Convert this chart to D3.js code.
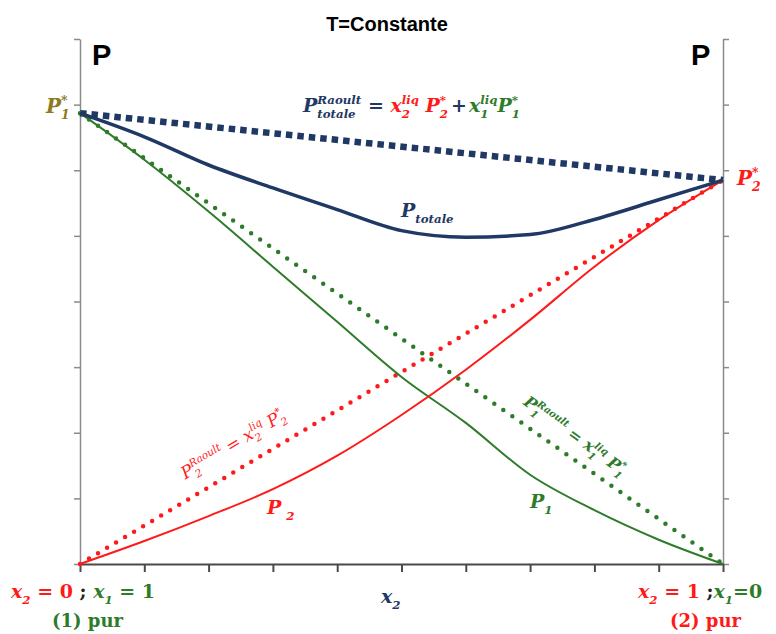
<!DOCTYPE html>
<html>
<head>
<meta charset="utf-8">
<script src="https://cdn.jsdelivr.net/npm/d3@7"></script>
<style>
	body { margin: 0; background: #fff; }
	text { white-space: pre; }
</style>
</head>
<body>
<div id="chart"></div>
<script>
// mole fraction of component 2 in the liquid, and the pressures (arbitrary units)
const x2 = [0, 0.1, 0.2, 0.3, 0.4, 0.5, 0.6, 0.7, 0.8, 0.9, 1];
const p1 = [6.87, 6.16, 5.37, 4.53, 3.69, 2.85, 2.15, 1.36, 0.82, 0.37, 0];
const p2 = [0, 0.35, 0.73, 1.14, 1.65, 2.27, 2.96, 3.72, 4.53, 5.24, 5.85];
const pTotale = [6.87, 6.51, 6.08, 5.73, 5.40, 5.08, 4.98, 5.02, 5.25, 5.55, 5.85];

// ideal (Raoult) lines: only the two pure-component ends
const xEnds = [0, 1];
const p1Raoult = [6.87, 0];
const p2Raoult = [0, 5.85];
const pTotRaoult = [6.87, 5.85];

const xTicks = [0, 0.1, 0.2, 0.3, 0.4, 0.5, 0.6, 0.7, 0.8, 0.9, 1];
const yTicks = [0, 1, 2, 3, 4, 5, 6, 7, 8];

const navy = "#1f3864", red = "#ff1a1a", green = "#2e7b2a", olive = "#8c7a22";
const serif = "'DejaVu Serif', 'Liberation Serif', serif";
const sans = "'Liberation Sans', Arial, sans-serif";

let margin = { top: 39, right: 53, bottom: 70, left: 80 },
	w = 776 - margin.left - margin.right,
	h = 634 - margin.top - margin.bottom;

let svg = d3.select("#chart")
	.append("svg")
	.attr("width", 776)
	.attr("height", 634);

let g = svg.append("g")
	.attr("transform", "translate(" + margin.left + "," + margin.top + ")");

let x = d3.scaleLinear().domain([0, 1]).range([0, w]);
let y = d3.scaleLinear().domain([0, 8]).range([h, 0]);

// axes
let yLeft = g.append("g")
	.call(d3.axisLeft(y).tickValues(yTicks).tickFormat("").tickSize(6).tickSizeOuter(0));
let yRight = g.append("g")
	.attr("transform", "translate(" + w + ",0)")
	.call(d3.axisRight(y).tickValues(yTicks).tickFormat("").tickSize(6).tickSizeOuter(0));
let xAxis = g.append("g")
	.attr("transform", "translate(0," + h + ")")
	.call(d3.axisBottom(x).tickValues(xTicks).tickFormat("").tickSize(8).tickSizeOuter(0));

[yLeft, yRight].forEach(a => {
	a.selectAll("path, line").attr("stroke", "#8a8a8a").attr("stroke-width", 1.5);
});
xAxis.selectAll("path, line").attr("stroke", "#4a4a4a").attr("stroke-width", 2);

// lines
let line = d3.line()
	.x(d => x(d[0]))
	.y(d => y(d[1]));
let curve = d3.line()
	.x(d => x(d[0]))
	.y(d => y(d[1]))
	.curve(d3.curveMonotoneX);

function pairs(xs, ys) { return xs.map((v, i) => [v, ys[i]]); }

// ideal lines (dotted)
g.append("path")
	.attr("d", line(pairs(xEnds, pTotRaoult)))
	.attr("fill", "none").attr("stroke", navy)
	.attr("stroke-width", 6.5).attr("stroke-dasharray", "6.5 5");
g.append("path")
	.attr("d", line(pairs(xEnds, p2Raoult)))
	.attr("fill", "none").attr("stroke", red)
	.attr("stroke-width", 4.5).attr("stroke-linecap", "round").attr("stroke-dasharray", "0 10.5");
g.append("path")
	.attr("d", line(pairs(xEnds, p1Raoult)))
	.attr("fill", "none").attr("stroke", green)
	.attr("stroke-width", 4.5).attr("stroke-linecap", "round").attr("stroke-dasharray", "0 11");

// real curves
g.append("path")
	.attr("d", curve(pairs(x2, p1)))
	.attr("fill", "none").attr("stroke", green).attr("stroke-width", 2);
g.append("path")
	.attr("d", curve(pairs(x2, p2)))
	.attr("fill", "none").attr("stroke", red).attr("stroke-width", 2);
g.append("path")
	.attr("d", curve(pairs(x2, pTotale)))
	.attr("fill", "none").attr("stroke", navy).attr("stroke-width", 3.5);

// text with sub/superscripts, laid out piece by piece
// pos: "sup" | "sub", stack: put under the previous piece, up: upright
function rich(parts, o) {
	let t = svg.append("g")
		.attr("font-family", serif)
		.attr("font-weight", o.fw || "bold");
	let cx = 0, prevStart = 0, prevEnd = 0;
	parts.forEach(p => {
		let small = p.pos === "sup" || p.pos === "sub";
		let fs = small ? o.size * 0.62 : o.size;
		let dy = p.pos === "sup" ? -o.size * 0.42 : p.pos === "sub" ? o.size * 0.3 : 0;
		let start = (p.stack ? prevStart : cx) + (p.gap || 0);
		let el = t.append("text")
			.attr("x", start).attr("y", dy)
			.attr("font-size", fs)
			.attr("fill", p.c || o.c)
			.attr("font-style", p.up ? "normal" : "italic")
			.text(p.t);
		let wd = el.node().getComputedTextLength();
		cx = p.stack ? Math.max(prevEnd, start + wd) : start + wd;
		prevStart = start;
		prevEnd = cx;
	});
	let shift = o.anchor === "middle" ? -cx / 2 : o.anchor === "end" ? -cx : 0;
	t.attr("transform", "translate(" + o.x + "," + o.y + ") rotate(" + (o.rot || 0) + ") translate(" + shift + ",0)");
	return t;
}

// title and axis letters
svg.append("text")
	.attr("x", 387).attr("y", 31)
	.attr("text-anchor", "middle")
	.attr("font-family", sans).attr("font-weight", "bold").attr("font-size", 20)
	.text("T=Constante");
svg.append("text")
	.attr("x", 92).attr("y", 65)
	.attr("font-family", sans).attr("font-weight", "bold").attr("font-size", 29)
	.text("P");
svg.append("text")
	.attr("x", 691).attr("y", 65)
	.attr("font-family", sans).attr("font-weight", "bold").attr("font-size", 29)
	.text("P");

// pure component pressures
rich([{ t: "P" }, { t: "*", pos: "sup" }, { t: "1", pos: "sub", stack: true }],
	{ x: 46, y: 113, size: 20, c: olive });
rich([{ t: "P" }, { t: "*", pos: "sup" }, { t: "2", pos: "sub", stack: true }],
	{ x: 737, y: 185, size: 20, c: red });

// ideal total pressure formula
rich([
	{ t: "P" }, { t: "Raoult", pos: "sup" }, { t: "totale", pos: "sub", stack: true },
	{ t: " = ", c: navy },
	{ t: "x", c: red }, { t: "liq", pos: "sup", c: red }, { t: "2", pos: "sub", stack: true, c: red },
	{ t: " P", c: red }, { t: "*", pos: "sup", c: red }, { t: "2", pos: "sub", stack: true, c: red },
	{ t: "+", c: navy, gap: 3 },
	{ t: "x", c: green, gap: 2 }, { t: "liq", pos: "sup", c: green }, { t: "1", pos: "sub", stack: true, c: green },
	{ t: "P", c: green }, { t: "*", pos: "sup", c: green }, { t: "1", pos: "sub", stack: true, c: green }
], { x: 303, y: 112, size: 19, c: navy });

rich([{ t: "P" }, { t: "totale", pos: "sub" }],
	{ x: 401, y: 217, size: 19, c: navy });

// partial pressure labels
rich([{ t: "P" }, { t: "2", pos: "sub", gap: 5 }],
	{ x: 267, y: 514, size: 19, c: red });
rich([{ t: "P" }, { t: "1", pos: "sub" }],
	{ x: 530, y: 508, size: 19, c: green });

rich([
	{ t: "P" }, { t: "Raoult", pos: "sup" }, { t: "2", pos: "sub", stack: true },
	{ t: " = x" }, { t: "liq", pos: "sup" }, { t: "2", pos: "sub", stack: true },
	{ t: " P" }, { t: "*", pos: "sup" }, { t: "2", pos: "sub", stack: true }
], { x: 236, y: 449, size: 17, c: red, fw: "normal", rot: -31, anchor: "middle" });

rich([
	{ t: "P" }, { t: "Raoult", pos: "sup" }, { t: "1", pos: "sub", stack: true },
	{ t: " = x" }, { t: "liq", pos: "sup" }, { t: "1", pos: "sub", stack: true },
	{ t: " P" }, { t: "*", pos: "sup" }, { t: "1", pos: "sub", stack: true }
], { x: 572, y: 440, size: 16, c: green, rot: 36, anchor: "middle" });

// x axis labels
rich([{ t: "x" }, { t: "2", pos: "sub" }],
	{ x: 381, y: 603, size: 19, c: navy });

rich([
	{ t: "x", c: red }, { t: "2", pos: "sub", c: red }, { t: " = 0", c: red, up: true },
	{ t: " ; ", c: "#222", up: true },
	{ t: "x", c: green }, { t: "1", pos: "sub", c: green }, { t: " = 1", c: green, up: true }
], { x: 11, y: 598, size: 19 });
rich([{ t: "(1) pur", up: true }], { x: 52, y: 627, size: 18, c: green });

rich([
	{ t: "x", c: red }, { t: "2", pos: "sub", c: red }, { t: " = 1", c: red, up: true },
	{ t: " ;", c: "#222", up: true },
	{ t: "x", c: green }, { t: "1", pos: "sub", c: green }, { t: "=0", c: green, up: true }
], { x: 638, y: 598, size: 19 });
rich([{ t: "(2) pur", up: true }], { x: 670, y: 627, size: 18, c: red });
</script>
</body>
</html>
